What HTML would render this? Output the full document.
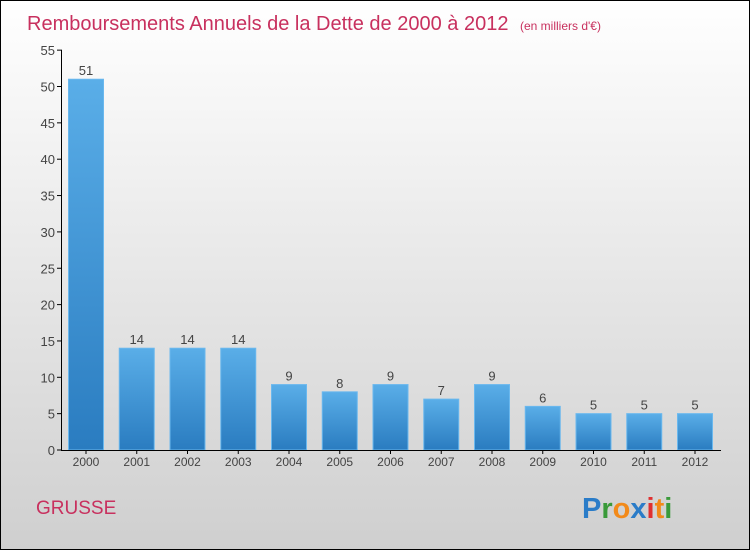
<!DOCTYPE html>
<html><head><meta charset="utf-8"><style>
body{margin:0}
svg{display:block;font-family:"Liberation Sans",sans-serif}
</style></head><body>
<svg id="c" width="750" height="550">
<defs>
<linearGradient id="bg" x1="0" y1="0" x2="0" y2="1"><stop offset="0" stop-color="#ffffff"/><stop offset="1" stop-color="#cfcfcf"/></linearGradient>
<linearGradient id="bar" x1="0" y1="0" x2="0" y2="1"><stop offset="0" stop-color="#5aaee8"/><stop offset="1" stop-color="#2a7cc0"/></linearGradient>
</defs>
<rect x="0.5" y="0.5" width="749" height="549" fill="url(#bg)" stroke="#000"/>
<text x="27" y="30" font-size="20" fill="#c8305e">Remboursements Annuels de la Dette de 2000 à 2012 <tspan font-size="12" dx="6">(en milliers d'€)</tspan></text>
<g id="plot"></g>
<text x="36" y="514" font-size="19" fill="#c8305e">GRUSSE</text>
<text x="582" y="518" font-size="29" font-weight="bold"><tspan fill="#2a7cc8">P</tspan><tspan fill="#3a9a3a">r</tspan><tspan fill="#f28a1a">o</tspan><tspan fill="#2a7cc8">x</tspan><tspan fill="#e03030">i</tspan><tspan fill="#f28a1a">t</tspan><tspan fill="#3a9a3a">i</tspan></text>
</svg>
<script>
const years=["2000","2001","2002","2003","2004","2005","2006","2007","2008","2009","2010","2011","2012"];
const values=[51,14,14,14,9,8,9,7,9,6,5,5,5];
const yTicks=[0,5,10,15,20,25,30,35,40,45,50,55];
const NS="http://www.w3.org/2000/svg";
const g=document.getElementById('plot');
const y0=450,yk=7.27,x0=86,step=50.75,bw=35;
const Y=v=>y0-v*yk, X=i=>x0+i*step;
function el(t,a,txt){const e=document.createElementNS(NS,t);for(const k in a)e.setAttribute(k,a[k]);if(txt!==undefined)e.textContent=txt;g.appendChild(e);return e;}
yTicks.forEach(t=>{
  const l=el('line',{x1:57,x2:62,y1:Y(t),y2:Y(t),stroke:'#000'});
  
  
  const tx=el('text',{x:55,y:Y(t)+5,'text-anchor':'end','font-size':13,fill:'#444'},t);
  
  
});
values.forEach((v,i)=>{
  const r=el('rect',{x:X(i)-bw/2,y:Y(v),width:bw,height:v*yk,fill:'url(#bar)',stroke:'#6ab8ee','stroke-width':1});
  
  
  const vt=el('text',{x:X(i),y:Y(v)-4,'text-anchor':'middle','font-size':13,fill:'#444'},v);
  
  
  const tk=el('line',{x1:X(i),x2:X(i),y1:y0,y2:y0+4,stroke:'#000'});
  
  
  const xt=el('text',{x:X(i),y:466,'text-anchor':'middle','font-size':12,fill:'#444'},years[i]);
  
  
});
const ya=el('line',{x1:61.5,x2:61.5,y1:Y(55),y2:y0,stroke:'#000'});


const xa=el('line',{x1:61,x2:721,y1:y0+0.5,y2:y0+0.5,stroke:'#000'});


</script>
</body></html>
